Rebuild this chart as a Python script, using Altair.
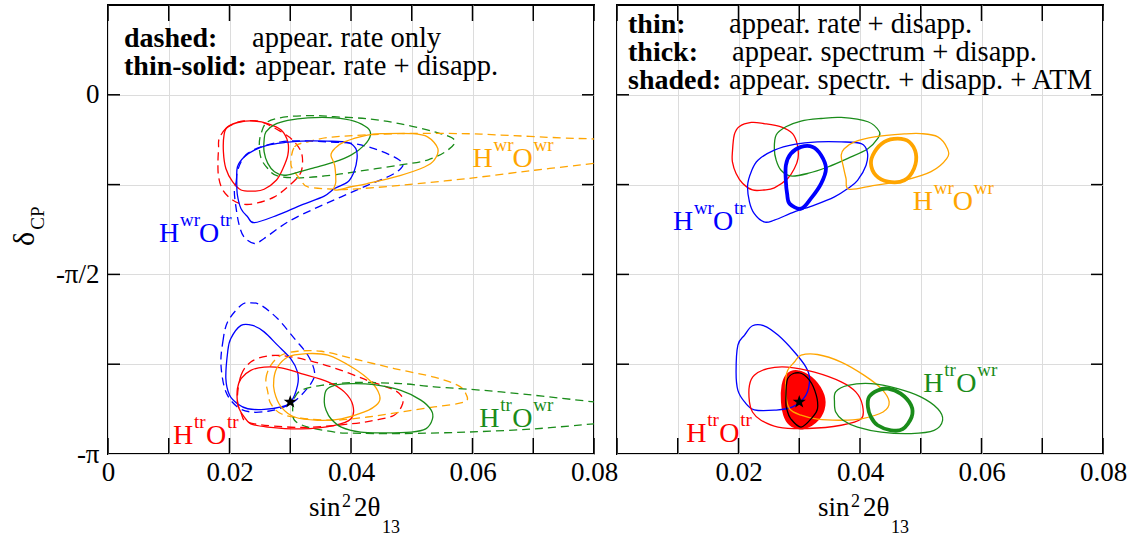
import altair as alt
import pandas as pd

FONT = "Liberation Serif"
RED, GREEN, BLUE, ORANGE = "#ff0000", "#1a8c1a", "#0000ff", "#ffa500"

# ---------------- data (x = sin^2 2theta13, y = delta_CP / pi) ----------------
# Left panel, upper (wrong-hierarchy) region
LU_RED_SOLID_X = [0.0197, 0.0219, 0.0241, 0.0263, 0.0285, 0.0296, 0.0296, 0.0288, 0.0277, 0.0257, 0.0241, 0.0219, 0.0205, 0.0194, 0.0190, 0.0191]
LU_RED_SOLID_Y = [-0.089, -0.075, -0.073, -0.080, -0.098, -0.131, -0.168, -0.205, -0.238, -0.263, -0.268, -0.265, -0.242, -0.205, -0.159, -0.112]
LU_RED_DASH_X = [0.0183, 0.0194, 0.0208, 0.0224, 0.0252, 0.0285, 0.0304, 0.0318, 0.0320, 0.0315, 0.0296, 0.0274, 0.0246, 0.0224, 0.0205, 0.0189, 0.0182, 0.0181, 0.0182]
LU_RED_DASH_Y = [-0.122, -0.094, -0.080, -0.073, -0.075, -0.103, -0.126, -0.159, -0.196, -0.224, -0.256, -0.284, -0.301, -0.305, -0.293, -0.265, -0.228, -0.187, -0.150]
LU_GREEN_SOLID_X = [0.0260, 0.0274, 0.0296, 0.0329, 0.0373, 0.0405, 0.0427, 0.0432, 0.0422, 0.0400, 0.0373, 0.0340, 0.0312, 0.0290, 0.0274, 0.0263, 0.0257, 0.0257]
LU_GREEN_SOLID_Y = [-0.103, -0.083, -0.071, -0.064, -0.064, -0.073, -0.092, -0.112, -0.140, -0.168, -0.187, -0.203, -0.216, -0.224, -0.214, -0.191, -0.159, -0.126]
LU_GREEN_DASH_X = [0.0252, 0.0263, 0.0296, 0.0340, 0.0372, 0.0428, 0.0482, 0.0537, 0.0570, 0.0560, 0.0527, 0.0482, 0.0428, 0.0372, 0.0318, 0.0279, 0.0263, 0.0252, 0.0249]
LU_GREEN_DASH_Y = [-0.108, -0.075, -0.061, -0.058, -0.061, -0.067, -0.081, -0.103, -0.125, -0.153, -0.181, -0.195, -0.209, -0.223, -0.231, -0.226, -0.205, -0.177, -0.140]
LU_BLUE_SOLID_X = [0.0213, 0.0224, 0.0241, 0.0263, 0.0290, 0.0318, 0.0362, 0.0395, 0.0408, 0.0410, 0.0405, 0.0395, 0.0373, 0.0356, 0.0318, 0.0279, 0.0241, 0.0230, 0.0219, 0.0213, 0.0212]
LU_BLUE_SOLID_Y = [-0.201, -0.173, -0.154, -0.140, -0.133, -0.129, -0.129, -0.133, -0.150, -0.177, -0.214, -0.242, -0.261, -0.282, -0.307, -0.335, -0.356, -0.340, -0.317, -0.279, -0.242]
LU_BLUE_DASH_X = [0.0208, 0.0211, 0.0213, 0.0219, 0.0230, 0.0252, 0.0285, 0.0318, 0.0362, 0.0405, 0.0438, 0.0471, 0.0485, 0.0482, 0.0466, 0.0427, 0.0384, 0.0340, 0.0296, 0.0257, 0.0241, 0.0224, 0.0216, 0.0211]
LU_BLUE_DASH_Y = [-0.270, -0.242, -0.214, -0.187, -0.163, -0.145, -0.131, -0.128, -0.131, -0.136, -0.150, -0.173, -0.191, -0.205, -0.224, -0.252, -0.284, -0.317, -0.354, -0.400, -0.414, -0.396, -0.363, -0.317]
LU_ORANGE_SOLID_X = [0.0367, 0.0373, 0.0389, 0.0427, 0.0455, 0.0499, 0.0526, 0.0543, 0.0537, 0.0521, 0.0482, 0.0427, 0.0400, 0.0373, 0.0375, 0.0373]
LU_ORANGE_SOLID_Y = [-0.168, -0.150, -0.131, -0.112, -0.108, -0.108, -0.117, -0.150, -0.182, -0.201, -0.224, -0.247, -0.256, -0.265, -0.242, -0.196]
LU_ORANGE_DASH_X = [0.0301, 0.0307, 0.0329, 0.0373, 0.0482, 0.0581, 0.0647, 0.0746, 0.0800, 0.0844, 0.0844, 0.0800, 0.0702, 0.0592, 0.0482, 0.0400, 0.0373, 0.0329, 0.0318, 0.0307]
LU_ORANGE_DASH_Y = [-0.191, -0.145, -0.131, -0.117, -0.108, -0.108, -0.112, -0.120, -0.123, -0.127, -0.181, -0.191, -0.210, -0.233, -0.252, -0.263, -0.263, -0.256, -0.238, -0.214]

# Left panel, lower (true-hierarchy) region
LL_BLUE_SOLID_X = [0.0194, 0.0197, 0.0202, 0.0219, 0.0238, 0.0257, 0.0279, 0.0301, 0.0312, 0.0312, 0.0301, 0.0285, 0.0257, 0.0230, 0.0213, 0.0200]
LL_BLUE_SOLID_Y = [-0.790, -0.716, -0.679, -0.642, -0.642, -0.660, -0.697, -0.735, -0.772, -0.809, -0.855, -0.869, -0.876, -0.874, -0.860, -0.836]
LL_BLUE_DASH_X = [0.0186, 0.0189, 0.0197, 0.0219, 0.0235, 0.0252, 0.0279, 0.0307, 0.0329, 0.0340, 0.0334, 0.0312, 0.0290, 0.0263, 0.0235, 0.0213, 0.0194]
LL_BLUE_DASH_Y = [-0.753, -0.688, -0.632, -0.586, -0.579, -0.586, -0.623, -0.679, -0.725, -0.772, -0.804, -0.846, -0.869, -0.881, -0.883, -0.869, -0.827]
LL_RED_SOLID_X = [0.0213, 0.0213, 0.0219, 0.0235, 0.0257, 0.0285, 0.0318, 0.0362, 0.0389, 0.0403, 0.0400, 0.0373, 0.0318, 0.0263, 0.0235, 0.0222, 0.0216]
LL_RED_SOLID_Y = [-0.855, -0.818, -0.790, -0.767, -0.758, -0.760, -0.776, -0.799, -0.827, -0.864, -0.902, -0.920, -0.930, -0.925, -0.916, -0.892, -0.874]
LL_RED_DASH_X = [0.0213, 0.0219, 0.0235, 0.0263, 0.0296, 0.0340, 0.0384, 0.0427, 0.0466, 0.0482, 0.0485, 0.0471, 0.0438, 0.0400, 0.0318, 0.0235, 0.0219]
LL_RED_DASH_Y = [-0.846, -0.781, -0.744, -0.727, -0.728, -0.744, -0.767, -0.795, -0.818, -0.836, -0.860, -0.892, -0.906, -0.916, -0.926, -0.914, -0.886]
LL_ORANGE_SOLID_X = [0.0274, 0.0273, 0.0279, 0.0296, 0.0323, 0.0362, 0.0405, 0.0433, 0.0447, 0.0444, 0.0422, 0.0384, 0.0345, 0.0307, 0.0285]
LL_ORANGE_SOLID_Y = [-0.827, -0.790, -0.758, -0.730, -0.721, -0.725, -0.762, -0.799, -0.836, -0.860, -0.883, -0.902, -0.906, -0.897, -0.869]
LL_ORANGE_DASH_X = [0.0263, 0.0260, 0.0268, 0.0285, 0.0312, 0.0351, 0.0405, 0.0471, 0.0537, 0.0576, 0.0589, 0.0587, 0.0537, 0.0482, 0.0427, 0.0373, 0.0318, 0.0285, 0.0268]
LL_ORANGE_DASH_Y = [-0.827, -0.790, -0.753, -0.725, -0.714, -0.714, -0.735, -0.762, -0.786, -0.809, -0.832, -0.855, -0.869, -0.883, -0.897, -0.906, -0.900, -0.888, -0.860]
LL_GREEN_SOLID_X = [0.0356, 0.0359, 0.0373, 0.0400, 0.0438, 0.0482, 0.0515, 0.0532, 0.0534, 0.0523, 0.0499, 0.0455, 0.0416, 0.0384, 0.0367, 0.0359]
LL_GREEN_SOLID_Y = [-0.855, -0.823, -0.809, -0.804, -0.807, -0.823, -0.850, -0.878, -0.903, -0.930, -0.939, -0.941, -0.939, -0.925, -0.902, -0.878]
LL_GREEN_DASH_X = [0.0304, 0.0307, 0.0318, 0.0351, 0.0405, 0.0482, 0.0537, 0.0647, 0.0800, 0.0844, 0.0844, 0.0800, 0.0702, 0.0592, 0.0482, 0.0400, 0.0373, 0.0329, 0.0307]
LL_GREEN_DASH_Y = [-0.874, -0.844, -0.823, -0.809, -0.801, -0.804, -0.813, -0.827, -0.855, -0.864, -0.911, -0.916, -0.930, -0.939, -0.943, -0.942, -0.939, -0.925, -0.906]

# Right panel, upper region
RU_RED_X = [0.0190, 0.0193, 0.0201, 0.0221, 0.0242, 0.0270, 0.0289, 0.0297, 0.0298, 0.0292, 0.0281, 0.0259, 0.0242, 0.0223, 0.0207, 0.0196, 0.0190]
RU_RED_Y = [-0.159, -0.112, -0.089, -0.077, -0.080, -0.089, -0.108, -0.140, -0.177, -0.205, -0.233, -0.259, -0.265, -0.265, -0.247, -0.219, -0.187]
RU_GREEN_X = [0.0259, 0.0262, 0.0278, 0.0303, 0.0336, 0.0369, 0.0413, 0.0432, 0.0429, 0.0413, 0.0380, 0.0347, 0.0314, 0.0286, 0.0270, 0.0262]
RU_GREEN_Y = [-0.150, -0.112, -0.089, -0.073, -0.066, -0.063, -0.075, -0.103, -0.122, -0.150, -0.177, -0.201, -0.219, -0.226, -0.210, -0.182]
RU_BLUE_X = [0.0215, 0.0221, 0.0232, 0.0259, 0.0292, 0.0330, 0.0369, 0.0402, 0.0412, 0.0410, 0.0396, 0.0380, 0.0358, 0.0325, 0.0292, 0.0259, 0.0242, 0.0226, 0.0218]
RU_BLUE_Y = [-0.252, -0.214, -0.182, -0.154, -0.138, -0.131, -0.131, -0.136, -0.159, -0.196, -0.238, -0.261, -0.284, -0.307, -0.326, -0.349, -0.354, -0.331, -0.298]
RU_BLUE_THICK_X = [0.0278, 0.0278, 0.0286, 0.0303, 0.0322, 0.0336, 0.0344, 0.0336, 0.0319, 0.0303, 0.0284, 0.0280]
RU_BLUE_THICK_Y = [-0.242, -0.196, -0.164, -0.145, -0.145, -0.168, -0.205, -0.247, -0.289, -0.317, -0.303, -0.275]
RU_ORANGE_X = [0.0369, 0.0374, 0.0391, 0.0424, 0.0473, 0.0500, 0.0528, 0.0544, 0.0543, 0.0517, 0.0473, 0.0424, 0.0382, 0.0377, 0.0372]
RU_ORANGE_Y = [-0.168, -0.150, -0.131, -0.117, -0.109, -0.108, -0.117, -0.150, -0.177, -0.214, -0.238, -0.252, -0.263, -0.233, -0.196]
RU_ORANGE_THICK_X = [0.0418, 0.0424, 0.0440, 0.0462, 0.0481, 0.0492, 0.0489, 0.0473, 0.0446, 0.0426]
RU_ORANGE_THICK_Y = [-0.191, -0.159, -0.131, -0.122, -0.131, -0.164, -0.205, -0.238, -0.242, -0.224]

# Right panel, lower region
RL_BLUE_X = [0.0196, 0.0199, 0.0210, 0.0223, 0.0242, 0.0265, 0.0292, 0.0311, 0.0317, 0.0311, 0.0289, 0.0259, 0.0226, 0.0210, 0.0199]
RL_BLUE_Y = [-0.772, -0.697, -0.669, -0.643, -0.643, -0.669, -0.716, -0.758, -0.790, -0.836, -0.869, -0.878, -0.877, -0.855, -0.823]
RL_RED_X = [0.0218, 0.0218, 0.0226, 0.0248, 0.0281, 0.0325, 0.0369, 0.0393, 0.0404, 0.0402, 0.0369, 0.0314, 0.0265, 0.0237, 0.0223]
RL_RED_Y = [-0.855, -0.809, -0.781, -0.762, -0.758, -0.772, -0.799, -0.827, -0.864, -0.902, -0.920, -0.929, -0.925, -0.906, -0.883]
RL_RED_THICK_X = [0.0273, 0.0274, 0.0281, 0.0297, 0.0319, 0.0336, 0.0340, 0.0330, 0.0308, 0.0289, 0.0278]
RL_RED_THICK_Y = [-0.855, -0.809, -0.781, -0.772, -0.790, -0.827, -0.864, -0.902, -0.925, -0.920, -0.897]
RL_ATM_X = [0.0278, 0.0281, 0.0300, 0.0317, 0.0328, 0.0330, 0.0322, 0.0303, 0.0286, 0.0280]
RL_ATM_Y = [-0.855, -0.790, -0.774, -0.795, -0.836, -0.874, -0.897, -0.925, -0.902, -0.878]
RL_ORANGE_X = [0.0278, 0.0281, 0.0292, 0.0303, 0.0330, 0.0369, 0.0407, 0.0435, 0.0448, 0.0438, 0.0402, 0.0369, 0.0330, 0.0303, 0.0284, 0.0278]
RL_ORANGE_Y = [-0.790, -0.767, -0.744, -0.725, -0.723, -0.744, -0.781, -0.818, -0.855, -0.883, -0.902, -0.906, -0.903, -0.892, -0.874, -0.836]
RL_GREEN_X = [0.0358, 0.0360, 0.0380, 0.0418, 0.0462, 0.0500, 0.0528, 0.0536, 0.0522, 0.0484, 0.0435, 0.0396, 0.0372, 0.0360]
RL_GREEN_Y = [-0.855, -0.827, -0.809, -0.804, -0.818, -0.841, -0.874, -0.906, -0.934, -0.943, -0.939, -0.925, -0.906, -0.883]
RL_GREEN_THICK_X = [0.0413, 0.0415, 0.0429, 0.0446, 0.0467, 0.0484, 0.0485, 0.0470, 0.0451, 0.0429, 0.0418]
RL_GREEN_THICK_Y = [-0.869, -0.841, -0.823, -0.818, -0.832, -0.864, -0.897, -0.931, -0.934, -0.920, -0.897]

# best-fit point (star)
STAR_X = [0.030]
STAR_Y = [-0.855]

# region labels: H^{sup1} O^{sup2}
LABEL_PANEL = ["L", "L", "L", "L", "R", "R", "R", "R"]
LABEL_X = [0.0084, 0.0600, 0.0107, 0.0611, 0.0092, 0.0487, 0.0114, 0.0504]
LABEL_Y = [-0.409, -0.200, -0.971, -0.925, -0.376, -0.320, -0.967, -0.827]
LABEL_SUP1 = ["wr", "wr", "tr", "tr", "wr", "wr", "tr", "tr"]
LABEL_SUP2 = ["tr", "wr", "tr", "wr", "tr", "wr", "tr", "wr"]
LABEL_COLOR = [BLUE, ORANGE, RED, GREEN, BLUE, ORANGE, RED, GREEN]

X_TICKS = [0.0, 0.01, 0.02, 0.03, 0.04, 0.05, 0.06, 0.07, 0.08]
Y_TICKS = [-1.0, -0.75, -0.5, -0.25, 0.0]

LEGEND_L = [("dashed:", "appear. rate only"), ("thin-solid:", "appear. rate + disapp.")]
LEGEND_R = [("thin:", "appear. rate + disapp."), ("thick:", "appear. spectrum + disapp."),
            ("shaded:", "appear. spectr. + disapp. + ATM")]

CONTOURS = [
    ("L", "lu_red_s", RED, "thin", LU_RED_SOLID_X, LU_RED_SOLID_Y),
    ("L", "lu_red_d", RED, "dash", LU_RED_DASH_X, LU_RED_DASH_Y),
    ("L", "lu_green_s", GREEN, "thin", LU_GREEN_SOLID_X, LU_GREEN_SOLID_Y),
    ("L", "lu_green_d", GREEN, "dash", LU_GREEN_DASH_X, LU_GREEN_DASH_Y),
    ("L", "lu_blue_s", BLUE, "thin", LU_BLUE_SOLID_X, LU_BLUE_SOLID_Y),
    ("L", "lu_blue_d", BLUE, "dash", LU_BLUE_DASH_X, LU_BLUE_DASH_Y),
    ("L", "lu_orange_s", ORANGE, "thin", LU_ORANGE_SOLID_X, LU_ORANGE_SOLID_Y),
    ("L", "lu_orange_d", ORANGE, "dash", LU_ORANGE_DASH_X, LU_ORANGE_DASH_Y),
    ("L", "ll_blue_s", BLUE, "thin", LL_BLUE_SOLID_X, LL_BLUE_SOLID_Y),
    ("L", "ll_blue_d", BLUE, "dash", LL_BLUE_DASH_X, LL_BLUE_DASH_Y),
    ("L", "ll_red_s", RED, "thin", LL_RED_SOLID_X, LL_RED_SOLID_Y),
    ("L", "ll_red_d", RED, "dash", LL_RED_DASH_X, LL_RED_DASH_Y),
    ("L", "ll_orange_s", ORANGE, "thin", LL_ORANGE_SOLID_X, LL_ORANGE_SOLID_Y),
    ("L", "ll_orange_d", ORANGE, "dash", LL_ORANGE_DASH_X, LL_ORANGE_DASH_Y),
    ("L", "ll_green_s", GREEN, "thin", LL_GREEN_SOLID_X, LL_GREEN_SOLID_Y),
    ("L", "ll_green_d", GREEN, "dash", LL_GREEN_DASH_X, LL_GREEN_DASH_Y),
    ("R", "ru_red", RED, "thin", RU_RED_X, RU_RED_Y),
    ("R", "ru_green", GREEN, "thin", RU_GREEN_X, RU_GREEN_Y),
    ("R", "ru_blue", BLUE, "thin", RU_BLUE_X, RU_BLUE_Y),
    ("R", "ru_blue_t", BLUE, "thick", RU_BLUE_THICK_X, RU_BLUE_THICK_Y),
    ("R", "ru_orange", ORANGE, "thin", RU_ORANGE_X, RU_ORANGE_Y),
    ("R", "ru_orange_t", ORANGE, "thick", RU_ORANGE_THICK_X, RU_ORANGE_THICK_Y),
    ("R", "rl_red_t", RED, "fill", RL_RED_THICK_X, RL_RED_THICK_Y),
    ("R", "rl_blue", BLUE, "thin", RL_BLUE_X, RL_BLUE_Y),
    ("R", "rl_red", RED, "thin", RL_RED_X, RL_RED_Y),
    ("R", "rl_orange", ORANGE, "thin", RL_ORANGE_X, RL_ORANGE_Y),
    ("R", "rl_green", GREEN, "thin", RL_GREEN_X, RL_GREEN_Y),
    ("R", "rl_green_t", GREEN, "thick", RL_GREEN_THICK_X, RL_GREEN_THICK_Y),
    ("R", "rl_atm", "#000000", "atm", RL_ATM_X, RL_ATM_Y),
]

rows = []
for panel, cid, col, style, xs, ys in CONTOURS:
    for i, (x, y) in enumerate(zip(xs, ys)):
        rows.append(dict(panel=panel, cid=cid, color=col, style=style, x=x, y=y, i=i))
contour_df = pd.DataFrame(rows)

label_df = pd.DataFrame(dict(panel=LABEL_PANEL, x=LABEL_X, y=LABEL_Y, sup1=LABEL_SUP1,
                             sup2=LABEL_SUP2, color=LABEL_COLOR))
star_df = pd.DataFrame(dict(x=STAR_X, y=STAR_Y))
xt_df = pd.DataFrame(dict(x=X_TICKS))
yt_df = pd.DataFrame(dict(y=Y_TICKS[1:]))

W, H = 486, 449
XTICK_LEN, YTICK_LEN = 16, 12
STAR = "M0,-1L0.235,-0.324L0.951,-0.309L0.38,0.124L0.588,0.809L0,0.4L-0.588,0.809L-0.38,0.124L-0.951,-0.309L-0.235,-0.324Z"


def make_panel(panel):
    if panel == "L":
        xlab = ("abs(datum.value*100 - 2*round(datum.value*50)) < 0.01 ? "
                "(datum.value == 0 ? '0' : format(datum.value, '.2f')) : ''")
        ylab = ("datum.value == 0 ? '0' : datum.value == -0.5 ? '-π/2' : "
                "datum.value == -1 ? '-π' : ''")
    else:
        xlab = ("abs(datum.value*100 - 2*round(datum.value*50)) < 0.01 && datum.value > 0.001 ? "
                "format(datum.value, '.2f') : ''")
        ylab = "''"
    X = alt.X("x:Q", scale=alt.Scale(domain=[0, 0.08], nice=False, zero=False),
              axis=alt.Axis(values=X_TICKS, grid=True, ticks=False, domain=False, title=None,
                            labelExpr=xlab, labelPadding=5, labelFlush=False, labelOverlap=False))
    Y = alt.Y("y:Q", scale=alt.Scale(domain=[-1, 0.25], nice=False, zero=False),
              axis=alt.Axis(values=Y_TICKS, grid=True, ticks=False, domain=False, title=None,
                            labelExpr=ylab, labelPadding=9, labelFlush=False, labelOverlap=False))

    cdf = contour_df[contour_df.panel == panel]
    base = alt.Chart(cdf).encode(x=X, y=Y, detail="cid:N", order="i:Q",
                                 color=alt.Color("color:N", scale=None))
    layers = []
    if panel == "R":
        layers.append(base.transform_filter(alt.datum.style == "fill")
                      .mark_line(interpolate="cardinal-closed", fill=RED, strokeWidth=3.8, clip=True))
    layers.append(base.transform_filter(alt.datum.style == "dash")
                  .mark_line(interpolate="cardinal-closed", strokeWidth=1.3, strokeDash=[8, 5], clip=True))
    layers.append(base.transform_filter(alt.datum.style == "thin")
                  .mark_line(interpolate="cardinal-closed", strokeWidth=1.3, clip=True))
    if panel == "R":
        layers.append(base.transform_filter(alt.datum.style == "thick")
                      .mark_line(interpolate="cardinal-closed", strokeWidth=3.8, clip=True))
        layers.append(base.transform_filter(alt.datum.style == "atm")
                      .mark_line(interpolate="cardinal-closed", strokeWidth=1.3, clip=True))

    layers.append(alt.Chart(star_df).mark_point(shape=STAR, filled=True, color="black",
                                                size=190, opacity=1).encode(x=X, y=Y))

    # region labels
    ldf = label_df[label_df.panel == panel]
    lb = alt.Chart(ldf).encode(x=X, y=Y, color=alt.Color("color:N", scale=None))
    tc = dict(font=FONT, align="left", baseline="alphabetic")
    layers += [
        lb.mark_text(text="H", fontSize=28, **tc),
        lb.mark_text(dx=21, dy=-16, fontSize=19, **tc).encode(text="sup1:N"),
        lb.transform_filter(alt.datum.sup1 == "wr").mark_text(text="O", dx=40, fontSize=28, **tc),
        lb.transform_filter(alt.datum.sup1 == "tr").mark_text(text="O", dx=33, fontSize=28, **tc),
        lb.transform_filter(alt.datum.sup1 == "wr").mark_text(dx=61, dy=-16, fontSize=19, **tc).encode(text="sup2:N"),
        lb.transform_filter(alt.datum.sup1 == "tr").mark_text(dx=54, dy=-16, fontSize=19, **tc).encode(text="sup2:N"),
    ]

    # inward ticks
    tick = dict(color="black", strokeWidth=1.5)
    layers += [
        alt.Chart(xt_df).mark_rule(**tick).encode(x=X, y=alt.value(H), y2=alt.value(H - XTICK_LEN)),
        alt.Chart(xt_df).mark_rule(**tick).encode(x=X, y=alt.value(0), y2=alt.value(XTICK_LEN)),
        alt.Chart(yt_df).mark_rule(**tick).encode(y=Y, x=alt.value(0), x2=alt.value(YTICK_LEN)),
        alt.Chart(yt_df).mark_rule(**tick).encode(y=Y, x=alt.value(W), x2=alt.value(W - YTICK_LEN)),
    ]

    # legend text
    if panel == "L":
        legend, bx, nx, ys = LEGEND_L, 16, [144, 147], [42, 70]
    else:
        legend, bx, nx, ys = LEGEND_R, 11, [112, 115, 112], [28, 56, 84]
    for (bold, normal), yy, nxx in zip(legend, ys, nx):
        layers.append(alt.Chart(pd.DataFrame({"t": [bold]})).mark_text(
            font=FONT, fontSize=28, fontWeight="bold", align="left", baseline="alphabetic", color="black"
        ).encode(text="t:N", x=alt.value(bx), y=alt.value(yy)))
        layers.append(alt.Chart(pd.DataFrame({"t": [normal]})).mark_text(
            font=FONT, fontSize=28.5, align="left", baseline="alphabetic", color="black"
        ).encode(text="t:N", x=alt.value(nxx), y=alt.value(yy)))

    # x-axis title: sin^2 2theta_13
    for txt, px, py, fs in [("sin", 201, 511, 27), ("2", 234, 502, 18), ("2θ", 246, 511, 27), ("13", 274, 528, 18)]:
        layers.append(alt.Chart(pd.DataFrame({"t": [txt]})).mark_text(
            font=FONT, fontSize=fs, align="left", baseline="alphabetic", color="black"
        ).encode(text="t:N", x=alt.value(px), y=alt.value(py)))

    # y-axis title: delta_CP
    if panel == "L":
        for txt, px, py, fs in [("δ", -74, 234, 30), ("CP", -64, 213, 19)]:
            layers.append(alt.Chart(pd.DataFrame({"t": [txt]})).mark_text(
                font=FONT, fontSize=fs, align="center", baseline="alphabetic", angle=270, color="black"
            ).encode(text="t:N", x=alt.value(px), y=alt.value(py)))

    return alt.layer(*layers).properties(width=W, height=H)


chart = alt.hconcat(make_panel("L"), make_panel("R"), spacing=23, bounds="flush").properties(
    padding={"left": 9, "top": 3, "right": 5, "bottom": 3},
    background="white",
).configure_view(stroke="black", strokeWidth=2).configure_axis(
    labelFont=FONT, labelFontSize=27, labelColor="black", gridColor="#dcdcdc", gridWidth=1
)

chart.save("out.html", embed_options={"renderer": "svg", "actions": False})
